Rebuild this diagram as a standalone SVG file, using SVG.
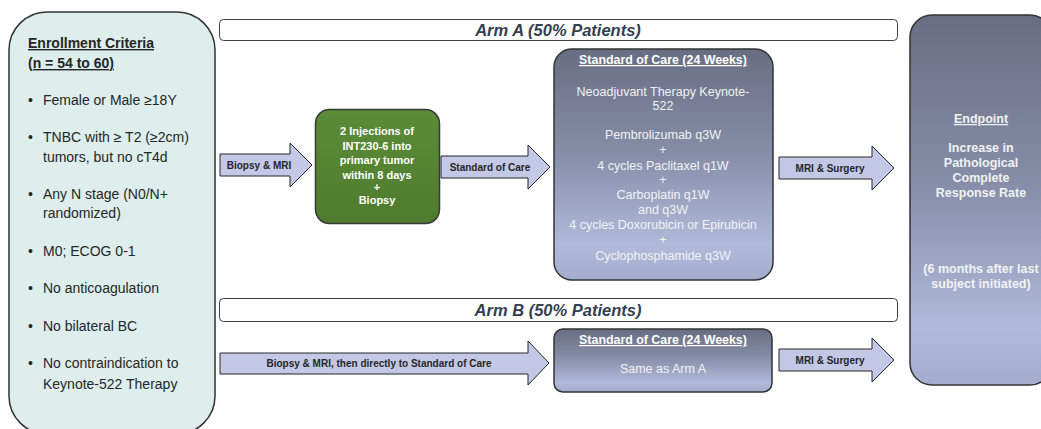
<svg xmlns="http://www.w3.org/2000/svg" width="1041" height="429" viewBox="0 0 1041 429">
<defs>
<linearGradient id="slate" x1="0" y1="0" x2="0" y2="1">
<stop offset="0" stop-color="#686E82"/>
<stop offset="0.45" stop-color="#858DA8"/>
<stop offset="0.85" stop-color="#B2BADB"/>
<stop offset="1" stop-color="#A4ACCD"/>
</linearGradient>
<linearGradient id="green" x1="0" y1="0" x2="0" y2="1">
<stop offset="0" stop-color="#5C8C38"/>
<stop offset="1" stop-color="#4E7B2D"/>
</linearGradient>
<style>
.lbox{fill:#DDEEEC;stroke:#333;stroke-width:1.5}
.bar{fill:#fff;stroke:#404040;stroke-width:1}
.arm{font-family:"Liberation Sans",Arial,sans-serif;font-weight:bold;font-style:italic;font-size:16.5px;fill:#333F50;text-anchor:middle}
.arrow{fill:#C2C8E5;stroke:#262626;stroke-width:1}
.alab{font-family:"Liberation Sans",Arial,sans-serif;font-weight:bold;font-size:10px;fill:#262626;text-anchor:middle}
.crit{font-family:"Liberation Sans",Arial,sans-serif;font-size:14px;fill:#262626}
.crith{font-family:"Liberation Sans",Arial,sans-serif;font-size:14px;font-weight:bold;fill:#262626;text-decoration:underline}
.soc{fill:url(#slate);stroke:#333;stroke-width:1.5}
.soct{font-family:"Liberation Sans",Arial,sans-serif;font-size:12.5px;fill:#F2F2F2;text-anchor:middle}
.socb{font-family:"Liberation Sans",Arial,sans-serif;font-size:12.4px;font-weight:bold;fill:#FFFFFF;text-anchor:middle;text-decoration:underline}
.gt{font-family:"Liberation Sans",Arial,sans-serif;font-size:11px;font-weight:bold;fill:#FFFFFF;text-anchor:middle}
.ep{font-family:"Liberation Sans",Arial,sans-serif;font-size:12.5px;font-weight:bold;fill:#F2F2F2;text-anchor:middle}
</style>
</defs>
<rect width="1041" height="429" fill="#FFFFFF"/>

<g id="enrollment">
<rect class="lbox" x="9" y="12" width="206" height="422" rx="38"/>
<text class="crith" x="28" y="48">Enrollment Criteria</text>
<text class="crith" x="28" y="68">(n = 54 to 60)</text>
<g class="crit">
<text x="28" y="105">•</text><text x="43" y="105">Female or Male ≥18Y</text>
<text x="28" y="142">•</text><text x="43" y="142">TNBC with ≥ T2 (≥2cm)</text>
<text x="43" y="162">tumors, but no cT4d</text>
<text x="28" y="199">•</text><text x="43" y="199">Any N stage (N0/N+</text>
<text x="43" y="218">randomized)</text>
<text x="28" y="256">•</text><text x="43" y="256">M0; ECOG 0-1</text>
<text x="28" y="293">•</text><text x="43" y="293">No anticoagulation</text>
<text x="28" y="331">•</text><text x="43" y="331">No bilateral BC</text>
<text x="28" y="368">•</text><text x="43" y="368">No contraindication to</text>
<text x="43" y="389">Keynote-522 Therapy</text>
</g>
</g>

<g id="armA">
<rect class="bar" x="219.5" y="19.5" width="678" height="21" rx="4"/>
<text class="arm" x="558" y="36">Arm A (50% Patients)</text>
</g>
<g id="armB">
<rect class="bar" x="219.5" y="298.5" width="678" height="23" rx="4"/>
<text class="arm" x="558" y="316">Arm B (50% Patients)</text>
</g>

<g id="injection">
<rect x="315.5" y="109.5" width="124" height="114" rx="14" fill="url(#green)" stroke="#3A3A3A" stroke-width="1.5"/>
<text class="gt" x="377" y="135">2 Injections of</text>
<text class="gt" x="377" y="149.5">INT230-6 into</text>
<text class="gt" x="377" y="164">primary tumor</text>
<text class="gt" x="377" y="178.5">within 8 days</text>
<text class="gt" x="377" y="191">+</text>
<text class="gt" x="377" y="204">Biopsy</text>
</g>

<g id="socA">
<rect class="soc" x="554" y="49" width="219" height="231" rx="18"/>
<text class="socb" x="663" y="64">Standard of Care (24 Weeks)</text>
<g class="soct">
<text x="663" y="96">Neoadjuvant Therapy Keynote-</text>
<text x="663" y="110">522</text>
<text x="663" y="139">Pembrolizumab q3W</text>
<text x="663" y="154">+</text>
<text x="663" y="170">4 cycles Paclitaxel q1W</text>
<text x="663" y="184">+</text>
<text x="663" y="199">Carboplatin q1W</text>
<text x="663" y="214">and q3W</text>
<text x="663" y="229">4 cycles Doxorubicin or Epirubicin</text>
<text x="663" y="244">+</text>
<text x="663" y="260">Cyclophosphamide q3W</text>
</g>
</g>

<g id="socB">
<rect class="soc" x="554" y="329" width="218" height="63" rx="9"/>
<text class="socb" x="663" y="344">Standard of Care (24 Weeks)</text>
<text class="soct" x="663" y="373">Same as Arm A</text>
</g>

<g id="endpoint">
<rect class="soc" x="910" y="15" width="142" height="370" rx="22"/>
<text class="ep" x="981" y="123" text-decoration="underline">Endpoint</text>
<text class="ep" x="981" y="152">Increase in</text>
<text class="ep" x="981" y="167">Pathological</text>
<text class="ep" x="981" y="182">Complete</text>
<text class="ep" x="981" y="197">Response Rate</text>
<text class="ep" x="981" y="273">(6 months after last</text>
<text class="ep" x="981" y="288">subject initiated)</text>
</g>

<g id="connectors">
<polygon class="arrow" points="220,154 290,154 290,143 312,165 290,187 290,176 220,176"/>
<text class="alab" x="259" y="169">Biopsy &amp; MRI</text>
<polygon class="arrow" points="441,156 528,156 528,145 550,167 528,189 528,178 441,178"/>
<text class="alab" x="490" y="171">Standard of Care</text>
<polygon class="arrow" points="779,157 872,157 872,146 894,168 872,190 872,179 779,179"/>
<text class="alab" x="830" y="172">MRI &amp; Surgery</text>
<polygon class="arrow" points="220,353 528,353 528,341 549,363 528,385 528,374 220,374"/>
<text class="alab" x="379" y="367">Biopsy &amp; MRI, then directly to Standard of Care</text>
<polygon class="arrow" points="779,349 872,349 872,338 894,360 872,382 872,371 779,371"/>
<text class="alab" x="830" y="364">MRI &amp; Surgery</text>
</g>
</svg>
